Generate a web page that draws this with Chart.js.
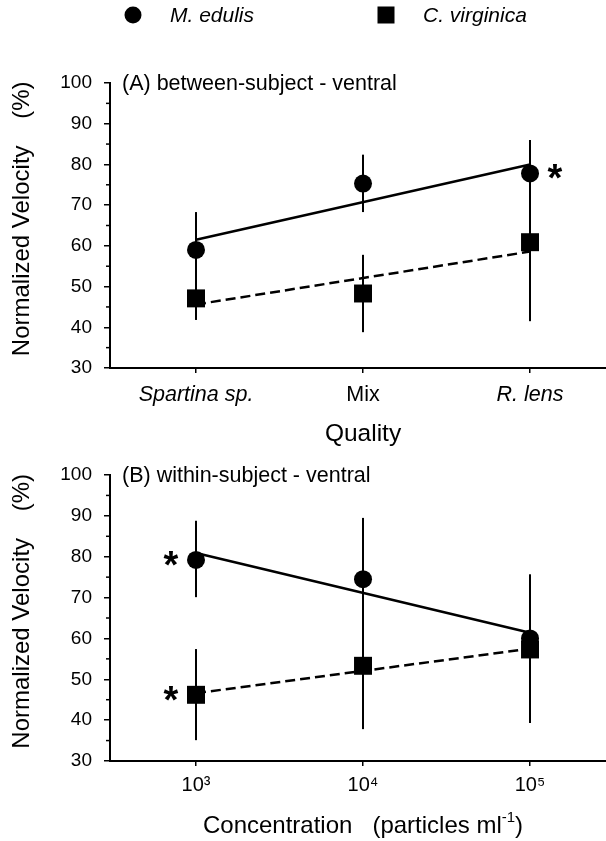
<!DOCTYPE html>
<html lang="en">
<head>
  <meta charset="UTF-8">
  <title>Normalized Velocity - ventral</title>
  <script src="https://cdn.jsdelivr.net/npm/chart.js@4"></script>
  <style>
    html, body { margin: 0; padding: 0; background: #fff; }
    #wrap { position: relative; width: 606px; height: 841px; }
    canvas { position: absolute; left: 0; }
  </style>
</head>
<body>
<div id="wrap">
  <canvas id="chartA" width="606" height="450" style="top:0"></canvas>
  <canvas id="chartB" width="606" height="391" style="top:450px"></canvas>
</div>

<script>
  const FONT = '"Liberation Sans", Arial, Helvetica, sans-serif';

  // (A) between-subject, food quality
  const qualityCats = ['Spartina sp.', 'Mix', 'R. lens'];
  const qualityX = [1, 2, 3];
  const edulisQ = [59.0, 75.3, 77.8];
  const edulisQLo = [52, 68.3, 69];
  const edulisQHi = [68.3, 82.4, 86];
  const virginicaQ = [47.1, 48.3, 60.9];
  const virginicaQLo = [41.8, 38.8, 41.5];
  const virginicaQHi = [53, 57.8, 81];
  const edulisQFit = [61.5, 80.0];
  const virginicaQFit = [45.6, 58.6];

  // (B) within-subject, concentration
  const concX = [1e3, 1e4, 1e5];
  const concLabels = ['10³', '10⁴', '10⁵'];
  const edulisC = [79.2, 74.5, 60.0];
  const edulisCLo = [70.1, 59.5, 44.3];
  const edulisCHi = [88.8, 89.5, 75.7];
  const virginicaC = [46.2, 53.3, 57.3];
  const virginicaCLo = [35.1, 37.8, 39.3];
  const virginicaCHi = [57.4, 68.8, 75.3];
  const edulisCFit = [80.9, 61.4];
  const virginicaCFit = [46.6, 57.5];

  const yMin = 30, yMax = 100, yStep = 10;

  function pts(xs, ys) {
    return xs.map((x, i) => ({ x: x, y: ys[i] }));
  }
  function fitPts(xs, fit) {
    return [{ x: xs[0], y: fit[0] }, { x: xs[xs.length - 1], y: fit[1] }];
  }

  function makeDatasets(xs, ed, vi, edFit, viFit) {
    return [
      { data: fitPts(xs, edFit), showLine: true, borderColor: '#000', borderWidth: 2.5, pointRadius: 0 },
      { data: fitPts(xs, viFit), showLine: true, borderColor: '#000', borderWidth: 2.5, borderDash: [10, 5], pointRadius: 0 },
      { data: pts(xs, ed), showLine: false, pointStyle: 'circle', pointRadius: 9, backgroundColor: '#000', borderWidth: 0 },
      { data: pts(xs, vi), showLine: false, pointStyle: 'rect', pointRadius: 12.7, backgroundColor: '#000', borderWidth: 0 }
    ];
  }

  // vertical error bars + short minor ticks on the y axis
  function barsPlugin(xs, bars) {
    return {
      id: 'bars',
      beforeDatasetsDraw(chart) {
        const { ctx, scales: { x, y } } = chart;
        ctx.save();
        ctx.strokeStyle = '#000';
        ctx.lineWidth = 2;
        bars.forEach(b => {
          xs.forEach((xv, i) => {
            const px = x.getPixelForValue(xv);
            ctx.beginPath();
            ctx.moveTo(px, y.getPixelForValue(b.lo[i]));
            ctx.lineTo(px, y.getPixelForValue(b.hi[i]));
            ctx.stroke();
          });
        });
        ctx.lineWidth = 1.5;
        const left = chart.chartArea.left;
        for (let v = yMin + yStep / 2; v < yMax; v += yStep) {
          const py = y.getPixelForValue(v);
          ctx.beginPath();
          ctx.moveTo(left - 4, py);
          ctx.lineTo(left, py);
          ctx.stroke();
        }
        ctx.restore();
      }
    };
  }

  function drawStar(ctx, px, py) {
    const size = 38;
    ctx.font = 'bold ' + size + 'px ' + FONT;
    ctx.textAlign = 'center';
    ctx.textBaseline = 'alphabetic';
    ctx.fillText('*', px, py + 0.47 * size);
  }

  function makeOptions(xScale) {
    return {
      responsive: false,
      animation: false,
      events: [],
      layout: { padding: 0, autoPadding: false },
      plugins: { legend: { display: false }, tooltip: { enabled: false } },
      scales: {
        x: xScale,
        y: {
          type: 'linear', min: yMin, max: yMax,
          ticks: { stepSize: yStep, padding: 12, color: '#000', font: { family: FONT, size: 19 } },
          grid: { drawOnChartArea: false, drawTicks: true, tickLength: 6, color: '#000', lineWidth: 1.5 },
          border: { display: true, color: '#000', width: 2 },
          title: {
            display: true, text: '  Normalized Velocity    (%)', color: '#000',
            font: { family: FONT, size: 24, lineHeight: 1 }, padding: { top: 10, bottom: 0 }
          },
          afterFit: s => { s.width = 110; }
        }
      }
    };
  }

  // ---- chart A ----
  const xA = {
    type: 'linear', min: 0.485, max: 3.455,
    afterBuildTicks: s => { s.ticks = qualityX.map(v => ({ value: v })); },
    ticks: {
      autoSkip: false, maxRotation: 0, padding: 9, color: '#000',
      callback: v => qualityCats[qualityX.indexOf(v)],
      font: c => ({ family: FONT, size: 21.5, style: (c.tick && c.tick.value === 2) ? 'normal' : 'italic' })
    },
    grid: { drawOnChartArea: false, drawTicks: true, tickLength: 5, color: '#000', lineWidth: 1.5 },
    border: { display: true, color: '#000', width: 2 },
    title: { display: false },
    afterFit: s => { s.height = 82; s.paddingLeft = 0; s.paddingRight = 0; }
  };
  const optA = makeOptions(xA);
  optA.layout.padding = { top: 83, left: 0, right: 0, bottom: 0 };

  const extrasA = {
    id: 'extrasA',
    afterDraw(chart) {
      const { ctx, scales: { x, y }, chartArea } = chart;
      ctx.save();
      ctx.fillStyle = '#000';
      // legend
      ctx.beginPath();
      ctx.arc(133, 15, 8.5, 0, Math.PI * 2);
      ctx.fill();
      ctx.fillRect(377.5, 6.5, 17, 17);
      ctx.font = 'italic 21px ' + FONT;
      ctx.textAlign = 'left';
      ctx.textBaseline = 'middle';
      ctx.fillText('M. edulis', 170, 16);
      ctx.fillText('C. virginica', 423, 16);
      // panel label
      ctx.font = '21.5px ' + FONT;
      ctx.fillText('(A) between-subject - ventral', chartArea.left + 12, chartArea.top + 1);
      // x title, centred under the middle category
      ctx.font = '24.5px ' + FONT;
      ctx.textAlign = 'center';
      ctx.fillText('Quality', x.getPixelForValue(qualityX[1]), 434);
      // significance
      drawStar(ctx, x.getPixelForValue(qualityX[2]) + 25, y.getPixelForValue(edulisQ[2]));
      ctx.restore();
    }
  };

  new Chart(document.getElementById('chartA'), {
    type: 'scatter',
    data: { datasets: makeDatasets(qualityX, edulisQ, virginicaQ, edulisQFit, virginicaQFit) },
    options: optA,
    plugins: [
      barsPlugin(qualityX, [{ lo: edulisQLo, hi: edulisQHi }, { lo: virginicaQLo, hi: virginicaQHi }]),
      extrasA
    ]
  });

  // ---- chart B ----
  const xB = {
    type: 'logarithmic', min: Math.pow(10, 2.485), max: Math.pow(10, 5.455),
    afterBuildTicks: s => { s.ticks = concX.map(v => ({ value: v })); },
    ticks: {
      autoSkip: false, maxRotation: 0, padding: 7, color: '#000',
      callback: v => concLabels[concX.indexOf(v)],
      font: { family: FONT, size: 20 }
    },
    grid: { drawOnChartArea: false, drawTicks: true, tickLength: 5, color: '#000', lineWidth: 1.5 },
    border: { display: true, color: '#000', width: 2 },
    title: { display: false },
    afterFit: s => { s.height = 80; s.paddingLeft = 0; s.paddingRight = 0; }
  };
  const optB = makeOptions(xB);
  optB.layout.padding = { top: 25, left: 0, right: 0, bottom: 0 };

  const extrasB = {
    id: 'extrasB',
    afterDraw(chart) {
      const { ctx, scales: { x, y }, chartArea } = chart;
      ctx.save();
      ctx.fillStyle = '#000';
      ctx.textBaseline = 'middle';
      ctx.textAlign = 'left';
      ctx.font = '21.5px ' + FONT;
      ctx.fillText('(B) within-subject - ventral', chartArea.left + 12, chartArea.top + 1);

      // x title with superscript
      const main = 'Concentration   (particles ml';
      const sup = '-1';
      const close = ')';
      ctx.font = '24px ' + FONT;
      const w1 = ctx.measureText(main).width;
      const w3 = ctx.measureText(close).width;
      ctx.font = '15px ' + FONT;
      const w2 = ctx.measureText(sup).width;
      const cx = x.getPixelForValue(concX[1]);
      const sx = cx - (w1 + w2 + w3) / 2;
      const ty = 376;
      ctx.font = '24px ' + FONT;
      ctx.fillText(main, sx, ty);
      ctx.font = '15px ' + FONT;
      ctx.fillText(sup, sx + w1, ty - 8);
      ctx.font = '24px ' + FONT;
      ctx.fillText(close, sx + w1 + w2, ty);

      drawStar(ctx, x.getPixelForValue(concX[0]) - 25, y.getPixelForValue(edulisC[0]));
      drawStar(ctx, x.getPixelForValue(concX[0]) - 25, y.getPixelForValue(virginicaC[0]));
      ctx.restore();
    }
  };

  new Chart(document.getElementById('chartB'), {
    type: 'scatter',
    data: { datasets: makeDatasets(concX, edulisC, virginicaC, edulisCFit, virginicaCFit) },
    options: optB,
    plugins: [
      barsPlugin(concX, [{ lo: edulisCLo, hi: edulisCHi }, { lo: virginicaCLo, hi: virginicaCHi }]),
      extrasB
    ]
  });
</script>
</body>
</html>
